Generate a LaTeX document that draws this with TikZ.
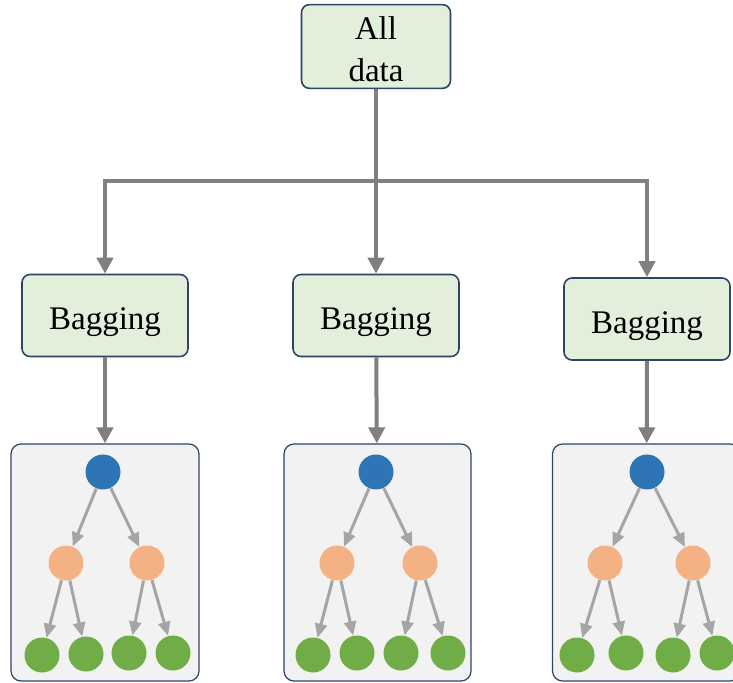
\documentclass[tikz,border=0pt]{standalone}
\usepackage{fontspec}
\setmainfont{Liberation Serif}
\usetikzlibrary{arrows.meta,positioning}

\definecolor{boxgreen}{HTML}{E2EFDA}
\definecolor{boxline}{HTML}{2F4468}
\definecolor{treefill}{HTML}{F2F2F2}
\definecolor{mainarrowgray}{HTML}{7F7F7F}
\definecolor{treearrowgray}{HTML}{A5A5A5}
\definecolor{rootblue}{HTML}{2E75B6}
\definecolor{midorange}{HTML}{F4B183}
\definecolor{leafgreen}{HTML}{70AD47}

\tikzset{
  stagebox/.style={draw=boxline, fill=boxgreen, rounded corners=4pt, line width=0.8pt,
    minimum width=83pt, minimum height=41pt, align=center,
    text height=14.5pt, text depth=0pt,
    font=\fontsize{16.5}{21}\selectfont},
  treebox/.style={draw=boxline, fill=treefill, rounded corners=5pt, line width=0.6pt,
    minimum width=94pt, minimum height=118.5pt},
  rootdot/.style={circle, fill=rootblue, minimum size=17.5pt, inner sep=0pt},
  middot/.style={circle, fill=midorange, minimum size=17.5pt, inner sep=0pt},
  leafdot/.style={circle, fill=leafgreen, minimum size=17.5pt, inner sep=0pt},
  mainline/.style={draw=mainarrowgray, line width=2pt},
  mainarrow/.style={mainline, -{Triangle[width=8pt,length=8pt]}}
}

\begin{document}
\begin{tikzpicture}[x=0.5pt,y=-0.5pt]
      \useasboundingbox (0,0) rectangle (733,683);
      \begin{scope}[every node/.style={stagebox}]
        \node (all) at (376,46.5) [minimum width=74.5pt, text height=35.2pt] {All\\data};
        \node (bag1) at (105,315.5) {Bagging};
        \node (bag2) at (376,315.5) {Bagging};
        \node (bag3) at (647,319) {Bagging};
      \end{scope}
      \begin{scope}[every node/.style={treebox}]
        \node (tree1) at (105,562.5) {};
        \node (tree2) at (377.5,562.5) [minimum width=93.5pt] {};
        \node (tree3) at (646.5,562.5) {};
      \end{scope}
      \coordinate (split) at (376,181);
      \draw[mainline] (all) -- (split);
      \draw[mainarrow] (split) -| (bag1);
      \draw[mainarrow] (split) -- (bag2);
      \draw[mainarrow] (split) -| (bag3);
      \draw[mainarrow] (bag1) -- (tree1);
      \draw[mainarrow] (bag2) -- (tree2);
      \draw[mainarrow] (bag3) -- (tree3);
      % first tree
      \node (r1) [rootdot] at (103,472) {};
      \node (m1a) [middot] at (66,563) {};
      \node (m1b) [middot] at (147,563) {};
      \node (l1a) [leafdot] at (42,655) {};
      \node (l1b) [leafdot] at (86,654) {};
      \node (l1c) [leafdot] at (129,653) {};
      \node (l1d) [leafdot] at (173,653) {};
      % second tree
      \node (r2) [rootdot] at (376,472) {};
      \node (m2a) [middot] at (337,563) {};
      \node (m2b) [middot] at (420,563) {};
      \node (l2a) [leafdot] at (313,655) {};
      \node (l2b) [leafdot] at (357,653) {};
      \node (l2c) [leafdot] at (401,653) {};
      \node (l2d) [leafdot] at (448,653) {};
      % third tree
      \node (r3) [rootdot] at (647,472) {};
      \node (m3a) [middot] at (605,563) {};
      \node (m3b) [middot] at (693,563) {};
      \node (l3a) [leafdot] at (577,655) {};
      \node (l3b) [leafdot] at (626,653) {};
      \node (l3c) [leafdot] at (673,655) {};
      \node (l3d) [leafdot] at (717,653) {};
      \begin{scope}
        [every edge/.style={draw=treearrowgray, line width=1.5pt,
          -{Triangle[width=6pt,length=7pt]}}]
        \path (r1) edge (m1a);
        \path (r1) edge (m1b);
        \path (m1a) edge (l1a);
        \path (m1a) edge (l1b);
        \path (m1b) edge (l1c);
        \path (m1b) edge (l1d);
        \path (r2) edge (m2a);
        \path (r2) edge (m2b);
        \path (m2a) edge (l2a);
        \path (m2a) edge (l2b);
        \path (m2b) edge (l2c);
        \path (m2b) edge (l2d);
        \path (r3) edge (m3a);
        \path (r3) edge (m3b);
        \path (m3a) edge (l3a);
        \path (m3a) edge (l3b);
        \path (m3b) edge (l3c);
        \path (m3b) edge (l3d);
      \end{scope}
    \end{tikzpicture}
\end{document}
